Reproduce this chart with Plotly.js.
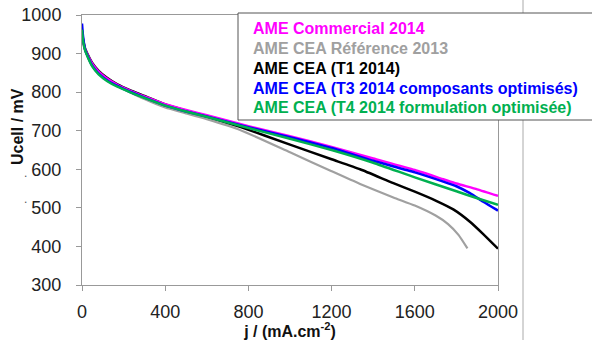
<!DOCTYPE html>
<html><head><meta charset="utf-8">
<script src="https://cdn.plot.ly/plotly-3.0.1.min.js"></script>
<style>html,body{margin:0;padding:0;background:#fff}#c{width:592px;height:340px}</style>
</head><body><div id="c"></div>
<script>
// Series names (legend text) and colours
const names = ["AME Commercial 2014","AME CEA Référence 2013","AME CEA (T1 2014)","AME CEA (T3 2014 composants optimisés)","AME CEA (T4 2014 formulation optimisée)"];
const colors = ["#FF00FF","#A0A0A0","#000000","#0000FF","#00B050"];

// Current density j (mA.cm-2) and cell voltage (mV)
const jCommercial = [0,5,15,30,50,80,120,170,230,300,400,500,600,800,1000,1200,1400,1600,1737,1800,1900,2000];
const uCommercial = [958,935,911,893,873,853,835,819,804,789,769,754,740,712,686,658,628,598,574,563,548,531];

const jRef2013 = [0,5,15,30,50,80,120,170,230,300,400,500,600,760,1000,1200,1337,1497,1600,1700,1760,1810,1853];
const uRef2013 = [955,932,908,890,870,850,832,816,800,782,760,745,730,702,644,595,562,527,506,480,458,430,395];

const jT1 = [0,5,15,30,50,80,120,170,230,300,400,500,600,760,1000,1200,1337,1497,1600,1700,1785,1865,1929,2000];
const uT1 = [960,937,913,895,875,855,837,820,805,790,768,752,737,710,664,626,600,564,542,519,496,464,432,394];

const jT3 = [0,5,15,30,50,80,120,170,230,300,400,500,600,800,1000,1200,1400,1600,1737,1800,1865,1929,2000];
const uT3 = [978,945,910,890,868,848,831,816,801,786,765,750,737,709,683,655,622,592,568,556,538,516,493];

const jT4 = [0,5,15,30,50,80,120,170,230,300,400,500,600,800,1000,1200,1400,1600,1800,1900,2000];
const uT4 = [962,933,908,888,866,846,829,814,800,785,765,750,736,707,679,650,617,579,543,525,508];

const xTicks = [0,400,800,1200,1600,2000];
const yTicks = [300,400,500,600,700,800,900,1000];

const js = [jCommercial,jRef2013,jT1,jT3,jT4];
const us = [uCommercial,uRef2013,uT1,uT3,uT4];
const widths = [2.5,2.2,2.5,2.5,2.5];

const traces = js.map((j,i)=>({
  x:j, y:us[i], type:'scatter', mode:'lines', name:names[i],
  line:{color:colors[i], width:widths[i], shape:'spline', smoothing:0.5}
}));
// draw order: gray, black, blue, magenta, green
const order = [1,2,0,3,4];
const data = order.map(i=>traces[i]);

const FONT = 'Arial, "Liberation Sans", sans-serif';
// plot area: x 82..498, y 15..285 (px)
const px = v => (v-82)/416;
const py = v => (285-v)/270;

const legendY = [29,49,69,88,107];
const annotations = names.map((n,i)=>({
  xref:'paper', yref:'paper', x:px(251), y:py(legendY[i]), xanchor:'left', yanchor:'middle',
  text:n, showarrow:false, font:{family:FONT, size:16, color:colors[i], weight:'bold'}
}));
annotations.push({
  xref:'paper', yref:'paper', x:px(17), y:py(127), xanchor:'center', yanchor:'middle',
  text:'Ucell / mV', textangle:-90, showarrow:false, font:{family:FONT, size:16, color:'#111', weight:'bold'}
});
annotations.push({xref:'paper', yref:'paper', x:px(22), y:py(173), text:'.', showarrow:false, font:{family:FONT,size:12,color:'#555'}});
annotations.push({xref:'paper', yref:'paper', x:px(22), y:py(208), text:'.', showarrow:false, font:{family:FONT,size:12,color:'#555'}});

const layout = {
  width:592, height:340,
  margin:{l:82, r:94, t:15, b:55, pad:0},
  paper_bgcolor:'#fff', plot_bgcolor:'#fff',
  showlegend:false,
  font:{family:FONT, color:'#222'},
  xaxis:{range:[0,2000], tickvals:xTicks, ticks:'outside', ticklen:5, tickcolor:'#999', tickwidth:1,
    showline:true, linecolor:'#999', linewidth:1, mirror:true, showgrid:false, zeroline:false,
    tickfont:{family:FONT, size:18, color:'#222'}, ticklabelstandoff:5,
    title:{text:'j / (mA.cm<sup>-2</sup>)', font:{family:FONT, size:16, color:'#111', weight:'bold'}, standoff:7}},
  yaxis:{range:[300,1000], tickvals:yTicks, ticks:'outside', ticklen:5, tickcolor:'#999', tickwidth:1,
    showline:true, linecolor:'#999', linewidth:1, mirror:true, showgrid:false, zeroline:false,
    tickfont:{family:FONT, size:18, color:'#222'}, ticklabelstandoff:11},
  shapes:[
    {type:'line', xref:'paper', yref:'paper', x0:px(523), x1:px(523), y0:py(-2), y1:py(342), line:{color:'#aaa', width:1}},
    {type:'rect', xref:'paper', yref:'paper', x0:px(238), x1:px(600), y0:py(120), y1:py(13), fillcolor:'#fff', line:{color:'#555', width:1}}
  ],
  annotations:annotations
};
Plotly.newPlot('c', data, layout, {displayModeBar:false, staticPlot:true});
</script></body></html>
